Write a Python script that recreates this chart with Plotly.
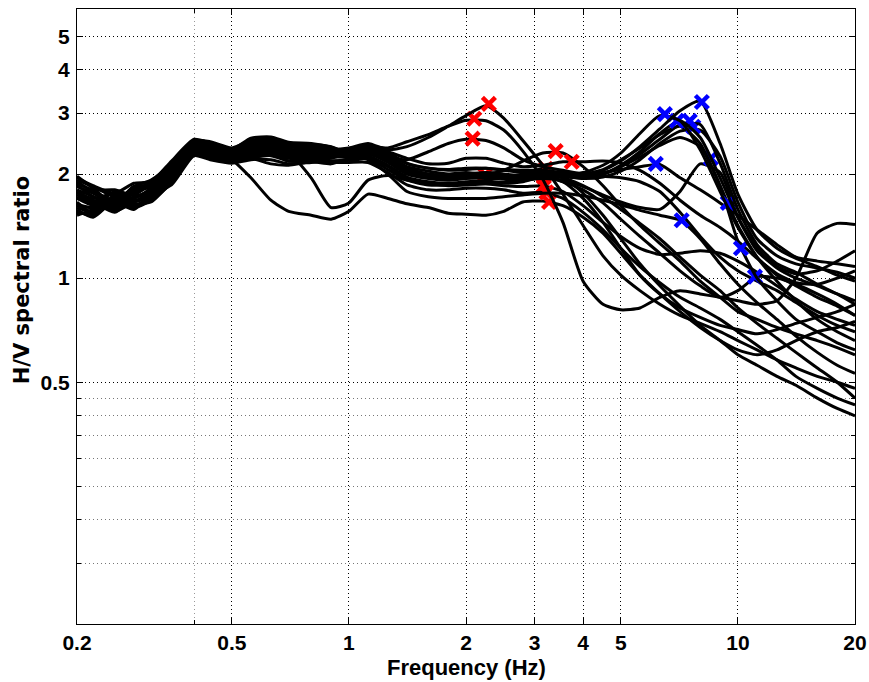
import math
import plotly.graph_objects as go

# ---------------- data ----------------
FREQ = [0.2, 0.22, 0.25, 0.28, 0.31, 0.35, 0.4, 0.44, 0.5, 0.56, 0.63, 0.7, 0.8, 0.9,
        1.0, 1.12, 1.26, 1.41, 1.6, 1.8, 2.0, 2.25, 2.5, 2.8,
        3.15, 3.55, 4.0, 4.5, 5.0, 5.6, 6.3, 7.1, 8.0, 9.0, 10.0, 11.2, 12.6, 14.1, 16.0, 18.0, 20.0]

R1 = [1.80, 1.72, 1.58, 1.78, 1.84, 2.02, 2.45, 2.40, 2.30, 2.46, 2.52, 2.44, 2.42, 2.36,
      2.38, 2.45, 2.35, 2.40, 2.55, 2.75, 2.95, 3.15, 2.90, 2.50,
      2.12, 1.75, 1.42, 1.16, 1.02, 0.92, 0.84, 0.78, 0.74, 0.70, 0.66, 0.62, 0.58, 0.55, 0.52, 0.50, 0.48]
R2 = [1.66, 1.54, 1.70, 1.62, 1.72, 1.92, 2.30, 2.26, 2.18, 2.24, 2.30, 2.22, 2.20, 2.22,
      2.30, 2.40, 2.38, 2.48, 2.60, 2.75, 2.86, 2.85, 2.68, 2.33,
      1.93, 1.45, 0.98, 0.84, 0.81, 0.82, 0.88, 0.92, 0.90, 0.88, 0.86, 0.84, 0.86, 1.00, 1.35, 1.44, 1.43]
R3 = [1.95, 1.85, 1.76, 1.88, 1.90, 2.18, 2.52, 2.46, 2.36, 2.54, 2.56, 2.47, 2.45, 2.39,
      2.30, 2.35, 2.25, 2.20, 2.32, 2.45, 2.52, 2.50, 2.38, 2.20,
      2.10, 2.05, 2.00, 1.97, 1.95, 1.90, 1.78, 1.55, 1.32, 1.15, 1.05, 0.98, 0.92, 0.85, 0.78, 0.73, 0.70]
R4 = [1.56, 1.52, 1.74, 1.60, 1.68, 1.88, 2.28, 2.22, 2.16, 2.22, 2.14, 2.12, 2.17, 2.14,
      2.22, 2.28, 2.18, 2.02, 1.96, 1.95, 1.97, 1.99, 1.97, 1.95,
      1.98, 1.95, 1.85, 1.72, 1.58, 1.44, 1.30, 1.15, 1.02, 0.92, 0.82, 0.74, 0.67, 0.61, 0.55, 0.50, 0.45]
R5 = [1.74, 1.66, 1.55, 1.70, 1.80, 2.04, 2.42, 2.36, 2.26, 2.38, 2.46, 2.36, 2.32, 2.30,
      2.30, 2.36, 2.26, 2.10, 2.04, 2.00, 2.02, 2.00, 2.05, 2.18,
      2.30, 2.30, 2.10, 1.85, 1.62, 1.42, 1.26, 1.12, 0.98, 0.88, 0.80, 0.76, 0.72, 0.69, 0.66, 0.63, 0.60]
R6 = [1.88, 1.80, 1.80, 1.74, 1.88, 2.10, 2.48, 2.44, 2.32, 2.42, 2.50, 2.40, 2.38, 2.36,
      2.36, 2.42, 2.32, 2.22, 2.14, 2.15, 2.22, 2.22, 2.15, 2.10,
      2.12, 2.17, 2.17, 2.18, 2.15, 2.05, 1.88, 1.68, 1.52, 1.40, 1.28, 1.14, 1.03, 0.97, 0.96, 1.00, 1.05]
R7 = [1.52, 1.58, 1.66, 1.58, 1.74, 1.86, 2.26, 2.20, 2.15, 2.20, 2.20, 2.14, 2.16, 2.18,
      2.20, 2.25, 2.12, 1.96, 1.90, 1.88, 1.90, 1.92, 1.95, 2.00,
      2.07, 1.96, 1.76, 1.52, 1.30, 1.10, 0.95, 0.83, 0.73, 0.66, 0.60, 0.56, 0.52, 0.49, 0.45, 0.42, 0.40]
R8 = [1.97, 1.82, 1.64, 1.84, 1.92, 2.14, 2.50, 2.48, 2.38, 2.50, 2.54, 2.46, 2.44, 2.40,
      2.28, 2.22, 2.06, 1.92, 1.86, 1.86, 1.88, 1.90, 1.88, 1.90,
      1.96, 1.90, 1.70, 1.45, 1.22, 1.02, 0.90, 0.82, 0.77, 0.73, 0.71, 0.69, 0.71, 0.74, 0.77, 0.80, 0.84]
R9 = [1.70, 1.62, 1.62, 1.66, 1.76, 1.98, 2.36, 2.30, 2.22, 2.30, 2.38, 2.30, 1.95, 1.60,
      1.65, 1.92, 1.98, 1.92, 1.88, 1.85, 1.86, 1.87, 1.85, 1.84,
      1.85, 1.78, 1.62, 1.45, 1.32, 1.22, 1.17, 1.18, 1.20, 1.18, 1.12, 1.04, 0.95, 0.87, 0.80, 0.76, 0.73]
R10 = [1.78, 1.68, 1.60, 1.76, 1.86, 2.06, 2.44, 2.36, 2.20, 1.95, 1.68, 1.56, 1.52, 1.48,
       1.56, 1.75, 1.70, 1.64, 1.60, 1.54, 1.53, 1.52, 1.56, 1.66,
       1.67, 1.62, 1.50, 1.35, 1.18, 1.02, 0.90, 0.80, 0.72, 0.66, 0.62, 0.60, 0.62, 0.66, 0.70, 0.72, 0.75]
R11 = [1.58, 1.50, 1.68, 1.64, 1.66, 1.90, 2.27, 2.24, 2.17, 2.23, 2.26, 2.18, 2.19, 2.16,
       2.16, 2.16, 2.02, 1.86, 1.80, 1.80, 1.82, 1.82, 1.80, 1.76,
       1.77, 1.70, 1.55, 1.38, 1.22, 1.08, 0.97, 0.88, 0.82, 0.76, 0.70, 0.64, 0.58, 0.52, 0.48, 0.45, 0.43]

B1 = [1.64, 1.60, 1.78, 1.68, 1.70, 1.96, 2.34, 2.30, 2.21, 2.28, 2.34, 2.26, 2.24, 2.26,
      2.26, 2.32, 2.20, 2.04, 1.98, 1.96, 1.98, 2.00, 1.98, 1.96,
      1.98, 1.98, 1.98, 2.05, 2.18, 2.40, 2.70, 3.05, 3.25, 2.45, 1.75, 1.38, 1.22, 1.14, 1.08, 1.02, 0.98]
B2 = [1.84, 1.76, 1.62, 1.80, 1.84, 2.08, 2.46, 2.42, 2.30, 2.44, 2.50, 2.42, 2.38, 2.34,
      2.34, 2.40, 2.30, 2.15, 2.08, 2.05, 2.06, 2.08, 2.05, 2.02,
      2.02, 2.00, 2.02, 2.12, 2.30, 2.62, 2.95, 2.85, 2.35, 1.78, 1.40, 1.15, 1.02, 0.95, 0.88, 0.83, 0.78]
B3 = [1.60, 1.56, 1.72, 1.60, 1.72, 1.94, 2.32, 2.28, 2.19, 2.26, 2.34, 2.24, 2.22, 2.24,
      2.24, 2.30, 2.16, 2.00, 1.94, 1.92, 1.94, 1.95, 1.94, 1.93,
      1.96, 1.96, 1.95, 2.00, 2.12, 2.32, 2.62, 2.85, 2.55, 1.95, 1.50, 1.22, 1.08, 1.03, 1.05, 1.12, 1.20]
B4 = [1.90, 1.78, 1.68, 1.82, 1.88, 2.12, 2.50, 2.44, 2.34, 2.48, 2.54, 2.44, 2.40, 2.37,
      2.32, 2.38, 2.24, 2.08, 2.00, 1.98, 2.00, 2.02, 2.00, 1.98,
      2.00, 1.98, 1.96, 2.00, 2.10, 2.28, 2.52, 2.78, 2.78, 2.15, 1.58, 1.25, 1.10, 1.04, 0.96, 0.90, 0.84]
B5 = [1.72, 1.64, 1.58, 1.72, 1.78, 2.00, 2.40, 2.34, 2.24, 2.34, 2.42, 2.32, 2.30, 2.30,
      2.30, 2.34, 2.22, 2.06, 1.98, 1.96, 1.97, 1.98, 1.97, 1.96,
      1.98, 1.97, 1.94, 1.96, 2.04, 2.20, 2.45, 2.66, 2.68, 2.25, 1.66, 1.30, 1.16, 1.10, 1.07, 1.04, 1.00]
B6 = [1.54, 1.55, 1.70, 1.62, 1.70, 1.90, 2.29, 2.26, 2.16, 2.22, 2.28, 2.18, 2.18, 2.18,
      2.18, 2.22, 2.10, 1.94, 1.88, 1.86, 1.88, 1.89, 1.90, 1.92,
      1.94, 1.92, 1.84, 1.74, 1.66, 1.60, 1.58, 1.78, 2.14, 2.02, 1.50, 1.20, 1.07, 1.00, 0.95, 0.90, 0.86]
B7 = [1.92, 1.84, 1.72, 1.76, 1.86, 2.08, 2.47, 2.40, 2.30, 2.40, 2.48, 2.40, 2.36, 2.34,
      2.34, 2.38, 2.28, 2.14, 2.08, 2.06, 2.08, 2.08, 2.06, 2.05,
      2.05, 2.02, 2.00, 2.02, 2.06, 2.10, 2.13, 1.95, 1.80, 1.65, 1.52, 1.38, 1.25, 1.15, 1.12, 1.10, 1.08]
B8 = [1.70, 1.66, 1.56, 1.66, 1.78, 1.98, 2.38, 2.33, 2.23, 2.33, 2.40, 2.30, 2.28, 2.30,
      2.32, 2.36, 2.24, 2.08, 2.00, 1.97, 1.98, 1.99, 1.98, 1.98,
      2.00, 2.00, 2.00, 2.06, 2.20, 2.38, 2.60, 2.75, 2.45, 1.85, 1.42, 1.15, 0.98, 0.86, 0.76, 0.70, 0.66]
B9 = [1.86, 1.72, 1.64, 1.84, 1.82, 2.04, 2.44, 2.40, 2.28, 2.38, 2.46, 2.36, 2.34, 2.32,
      2.26, 2.20, 2.00, 1.78, 1.72, 1.70, 1.70, 1.70, 1.72, 1.74,
      1.76, 1.76, 1.73, 1.68, 1.63, 1.57, 1.52, 1.47, 1.30, 1.10, 0.96, 0.85, 0.76, 0.68, 0.61, 0.56, 0.53]
B10 = [1.76, 1.70, 1.76, 1.70, 1.82, 2.02, 2.42, 2.37, 2.26, 2.36, 2.44, 2.34, 2.31, 2.31,
       2.28, 2.34, 2.22, 2.06, 1.99, 1.97, 1.98, 1.99, 1.98, 1.97,
       1.99, 1.98, 1.96, 2.00, 2.10, 2.24, 2.42, 2.55, 2.40, 1.85, 1.28, 1.00, 0.86, 0.76, 0.70, 0.65, 0.62]
B11 = [1.62, 1.60, 1.66, 1.66, 1.76, 1.96, 2.36, 2.32, 2.22, 2.30, 2.36, 2.28, 2.26, 2.28,
       2.26, 2.30, 2.18, 2.02, 1.95, 1.93, 1.95, 1.96, 1.95, 1.95,
       1.96, 1.90, 1.80, 1.65, 1.48, 1.32, 1.18, 1.05, 0.95, 0.88, 0.92, 1.01, 1.00, 0.96, 0.90, 0.84, 0.78]

# picked peaks (frequency, amplitude)
RED_F = [2.29, 2.10, 2.08, 2.24, 3.40, 3.74, 3.21, 3.17, 3.17, 3.27, 3.22]
RED_V = [3.19, 2.89, 2.53, 1.99, 2.33, 2.17, 2.07, 1.96, 1.85, 1.66, 1.77]
BLUE_F = [8.08, 6.49, 6.97, 7.52, 7.68, 8.52, 6.15, 9.42, 7.17, 10.18, 11.06]
BLUE_V = [3.23, 2.98, 2.85, 2.85, 2.74, 2.22, 2.14, 1.65, 1.47, 1.22, 1.01]

RED_CURVES = [R1, R2, R3, R4, R5, R6, R7, R8, R9, R10, R11]
BLUE_CURVES = [B1, B2, B3, B4, B5, B6, B7, B8, B9, B10, B11]

XTICKS = [0.2, 0.5, 1, 2, 3, 4, 5, 10, 20]
XTICKTEXT = ["0.2", "0.5", "1", "2", "3", "4", "5", "10", "20"]
YTICKS = [0.5, 1, 2, 3, 4, 5]
YTICKTEXT = ["0.5", "1", "2", "3", "4", "5"]
YMINOR = [0.15, 0.2, 0.25, 0.3, 0.35, 0.4, 0.45]
XMINOR = [0.4]

# ---------------- figure ----------------
fig = go.Figure()

order = ([("r", i) for i in (3, 6, 7, 8, 9, 10, 4, 5, 2)] +
         [("b", i) for i in (8, 10, 5, 6, 9, 7, 4, 3, 2, 1, 0)] +
         [("r", i) for i in (1, 0)])

for col, i in order:
    if col == "r":
        ys, mf, mv, mc = RED_CURVES[i], RED_F[i], RED_V[i], "#ff0000"
    else:
        ys, mf, mv, mc = BLUE_CURVES[i], BLUE_F[i], BLUE_V[i], "#0000ff"
    fig.add_trace(go.Scatter(x=FREQ, y=ys, mode="lines",
                             line=dict(color="black", width=3, shape="spline", smoothing=0.6),
                             showlegend=False, hoverinfo="skip"))
    fig.add_trace(go.Scatter(x=[mf], y=[mv], mode="markers",
                             marker=dict(symbol="x-thin", size=13, color=mc,
                                         line=dict(color=mc, width=4.5)),
                             showlegend=False, hoverinfo="skip"))

DOT = "1px,3px"
tickfont = dict(family="Liberation Sans", size=21, color="black", weight="bold")

fig.update_layout(
    width=869, height=682,
    margin=dict(l=77, r=14, t=9, b=58, autoexpand=False),
    paper_bgcolor="white", plot_bgcolor="white",
    xaxis=dict(type="log", range=[math.log10(0.2), math.log10(20)],
               tickmode="array", tickvals=XTICKS, ticktext=XTICKTEXT,
               tickfont=tickfont, ticks="inside", ticklen=6, tickcolor="black", tickwidth=1,
               showline=True, linecolor="black", linewidth=1, mirror="ticks",
               showgrid=True, gridcolor="black", gridwidth=1, griddash=DOT,
               minor=dict(tickmode="array", tickvals=XMINOR, showgrid=True, gridcolor="#999999",
                          griddash=DOT, ticks="inside", ticklen=4, tickcolor="black"),
               ticklabelstandoff=0,
               automargin=False),
    yaxis=dict(type="log", range=[-1, math.log10(6)],
               tickmode="array", tickvals=YTICKS, ticktext=YTICKTEXT,
               tickfont=tickfont, ticks="inside", ticklen=6, tickcolor="black", tickwidth=1,
               showline=True, linecolor="black", linewidth=1, mirror="ticks",
               showgrid=True, gridcolor="black", gridwidth=1, griddash=DOT,
               minor=dict(tickmode="array", tickvals=YMINOR, showgrid=True, gridcolor="#777777",
                          griddash=DOT, ticks="inside", ticklen=4, tickcolor="black"),
               ticklabelstandoff=2,
               automargin=False),
    annotations=[
        dict(text="Frequency (Hz)", xref="paper", yref="paper", x=0.5, y=-0.07,
             xanchor="center", yanchor="middle", showarrow=False,
             font=dict(family="Liberation Sans", size=22, color="black", weight="bold")),
        dict(text="H/V spectral ratio", xref="paper", yref="paper", x=-0.0707, y=0.559,
             xanchor="center", yanchor="middle", showarrow=False, textangle=-90,
             font=dict(family="DejaVu Sans", size=21, color="black", weight="bold")),
    ],
)

fig.write_html("out.html")
